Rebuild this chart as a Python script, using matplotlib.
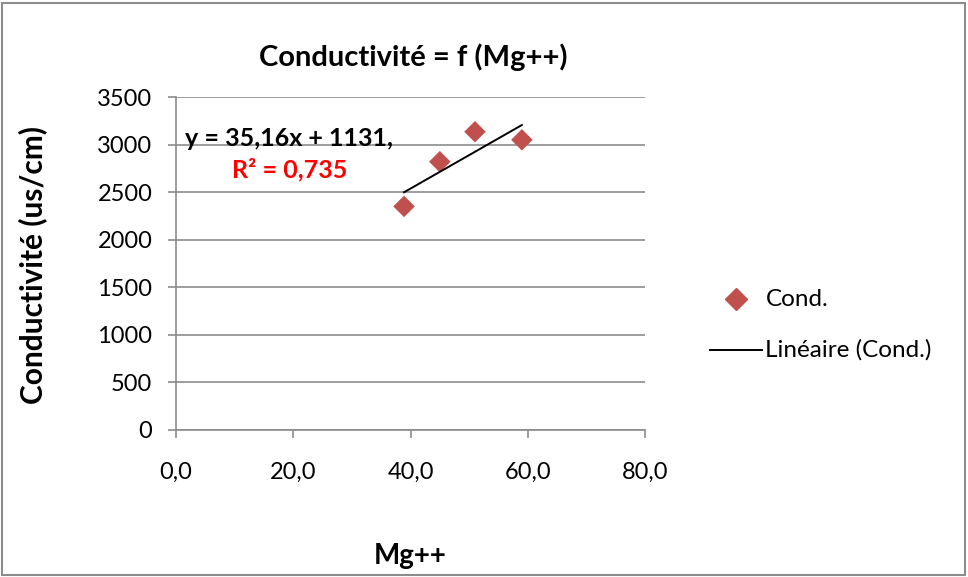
"""Conductivity versus Mg++ scatter with linear trend line."""

import matplotlib

matplotlib.use("Agg")
import matplotlib.pyplot as plt  # noqa: E402
from matplotlib.lines import Line2D  # noqa: E402
from matplotlib.patches import Rectangle  # noqa: E402

plt.rcParams["font.family"] = ["Lato", "DejaVu Sans"]

# Measured samples
mg = [38.9, 45.0, 51.0, 59.0]
cond = [2350, 2820, 3135, 3050]

# Linear trend (Excel fit)
slope = 35.16
intercept = 1131
r2 = 0.735

x_ticks = [0, 20, 40, 60, 80]
x_tick_labels = ["0,0", "20,0", "40,0", "60,0", "80,0"]
y_ticks = [0, 500, 1000, 1500, 2000, 2500, 3000, 3500]

W, H = 968, 577
fig = plt.figure(figsize=(W / 100, H / 100), dpi=100)
fig.patch.set_facecolor("white")

# outer chart border
fig.add_artist(Rectangle((2 / W, 2 / H), 1 - 5 / W, 1 - 5 / H,
                         transform=fig.transFigure, fill=False,
                         edgecolor="#8c8c8c", linewidth=1.5))

left, right, top, bottom = 176, 645, 97, 430
ax = fig.add_axes([left / W, 1 - bottom / H, (right - left) / W, (bottom - top) / H])

grid_col = "#8c8c8c"
ax.set_xlim(0, 80)
ax.set_ylim(0, 3500)
ax.set_yticks(y_ticks)
ax.set_yticklabels([str(v) for v in y_ticks])
ax.set_xticks(x_ticks)
ax.set_xticklabels(x_tick_labels)
ax.yaxis.grid(True, color=grid_col, linewidth=1.2)
ax.set_axisbelow(True)
for side in ("top", "right"):
    ax.spines[side].set_visible(False)
for side in ("left", "bottom"):
    ax.spines[side].set_color(grid_col)
    ax.spines[side].set_linewidth(1.2)
ax.tick_params(axis="both", colors=grid_col, length=6, width=1.2,
               labelsize=17, labelcolor="black")
ax.tick_params(axis="x", pad=17)
ax.tick_params(axis="y", pad=11)

ax.scatter(mg, cond, marker="D", s=120, color="#C0504D", zorder=3,
           edgecolors="none")

x_fit = [min(mg), max(mg)]
y_fit = [slope * x + intercept for x in x_fit]
ax.plot(x_fit, y_fit, color="black", linewidth=1.4, zorder=4)

eq_label = f"y = {slope:.2f}x + {intercept},".replace(".", ",")
r2_label = f"R² = {r2:.3f}".replace(".", ",")
ax.text(1.6, 2990, eq_label, fontsize=18, fontweight="bold", color="black")
ax.text(9.5, 2650, r2_label, fontsize=18, fontweight="bold", color="#FF0000")

fig.text(413 / W, 1 - 57 / H, "Conductivité = f (Mg++)", ha="center", va="center",
         fontsize=21, fontweight="bold")
fig.text(410 / W, 1 - 556 / H, "Mg++", ha="center", va="center",
         fontsize=20, fontweight="bold")
fig.text(33 / W, 1 - 265 / H, "Conductivité (us/cm)", ha="center", va="center",
         rotation=90, fontsize=21.5, fontweight="bold")

# legend drawn by hand to the right of the plot area
fig.add_artist(Line2D([736 / W], [1 - 299 / H], marker="D", markersize=11,
                      color="#C0504D", linestyle="none",
                      transform=fig.transFigure))
fig.text(766 / W, 1 - 299 / H, "Cond.", va="center", fontsize=17.5)
fig.add_artist(Line2D([710 / W, 762 / W], [1 - 350 / H, 1 - 350 / H],
                      color="black", linewidth=1.4, transform=fig.transFigure))
fig.text(765 / W, 1 - 350 / H, "Linéaire (Cond.)", va="center", fontsize=17.5)

fig.savefig("out.png", dpi=100)
